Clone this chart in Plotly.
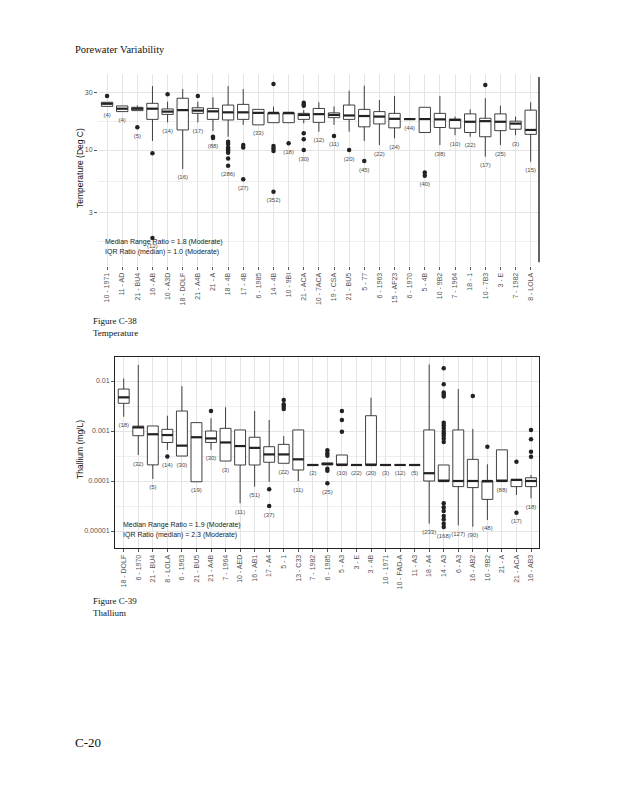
import numpy as np
import plotly.graph_objects as go

# ---------------- Temperature data (Deg C) ----------------
temp_sites = ["10 - 1971", "11 - AD", "21 - BU4", "16 - AB", "10 - A3D", "18 - DOLF",
              "21 - A4B", "21 - A", "18 - 4B", "17 - 4B", "6 - 1985", "14 - 4B",
              "10 - 9BI", "21 - ACA", "10 - 7ACA", "19 - CSA", "21 - BU5", "5 - 77",
              "6 - 1963", "15 - AF23", "6 - 1970", "5 - 4B", "10 - 9B2", "7 - 1964",
              "18 - 1", "10 - 7B3", "3 - E", "7 - 1982", "8 - LOLA"]
temp_n = [4, 4, 5, 12, 14, 16, 17, 88, 286, 27, 33, 352, 18, 30, 12, 11, 20, 45,
          22, 24, 44, 40, 38, 10, 22, 17, 25, 3, 15]
temp_low = [23.1, 20.9, 21.3, 11.9, 17.0, 6.95, 17.0, 14.4, 12.9, 16.2, 16.2, 16.9,
            16.9, 16.7, 14.2, 16.2, 14.2, 11.9, 11.0, 12.5, 18.1, 14.0, 11.0, 13.3,
            12.9, 8.8, 11.0, 13.3, 8.0]
temp_q1 = [23.1, 20.9, 21.3, 18.0, 19.8, 14.7, 20.2, 18.0, 17.8, 18.0, 16.2, 16.9,
           16.9, 18.0, 17.0, 18.6, 18.0, 15.6, 16.5, 15.3, 18.1, 14.0, 15.4, 15.2,
           14.0, 12.9, 14.5, 14.9, 13.5]
temp_med = [24.3, 22.1, 22.1, 22.1, 20.9, 21.5, 21.3, 21.0, 20.6, 20.6, 20.4, 20.4,
            20.4, 19.6, 19.9, 19.6, 19.4, 19.2, 19.0, 18.2, 18.1, 18.1, 18.0, 17.8,
            17.2, 17.4, 17.2, 16.6, 14.7]
temp_q3 = [25.0, 23.3, 22.7, 24.5, 22.0, 27.0, 22.5, 22.2, 23.7, 24.0, 21.8, 20.4,
           20.4, 20.2, 22.2, 20.4, 23.7, 21.8, 20.9, 20.2, 18.1, 22.7, 20.2, 18.1,
           20.0, 18.4, 20.0, 17.4, 21.5]
temp_high = [25.0, 23.3, 23.5, 34.1, 25.3, 32.2, 25.3, 27.5, 34.1, 32.2, 21.8, 23.0,
             20.4, 21.5, 25.0, 23.1, 31.2, 34.3, 26.1, 28.2, 18.1, 22.7, 28.2, 19.0,
             21.8, 27.0, 23.4, 19.0, 25.0]
temp_outliers = [[28.2], [], [15.5], [9.4, 1.85], [29.1], [], [28.2], [12.9, 12.6],
                 [11.7, 11.2, 10.5, 10.1, 9.8, 9.5, 8.5, 7.4], [11.0, 10.5, 5.7], [],
                 [35.5, 10.8, 10.3, 9.8, 4.5], [11.4], [24.8, 24.0, 23.4, 13.8, 12.3, 10.0],
                 [], [13.1], [10.0], [8.1], [], [], [], [6.5, 6.1], [], [], [], [34.8],
                 [], [], []]

# ---------------- Thallium data (mg/L) ----------------
tl_sites = ["18 - DOLF", "6 - 1970", "21 - BU4", "8 - LOLA", "6 - 1963", "21 - BU5",
            "21 - A4B", "7 - 1964", "10 - AED", "16 - AB1", "17 - A4", "5 - 1",
            "13 - C33", "7 - 1982", "6 - 1985", "5 - A3", "3 - E", "3 - 4B",
            "10 - 1971", "10 - FAD-A", "11 - A3", "18 - A4", "14 - A3", "6 - A3",
            "16 - AB2", "10 - 9B2", "21 - A", "21 - ACA", "16 - AB3"]
tl_n = [18, 32, 5, 14, 30, 19, 30, 3, 11, 51, 37, 22, 11, 2, 25, 10, 22, 20, 3, 12, 5,
        233, 168, 127, 90, 48, 88, 17, 18]
tl_low = [0.00193, 0.000331, 0.00011, 0.00042, 0.000316, 0.0000965, 0.00042, 0.000251,
          0.000036, 0.0000772, 0.0000965, 0.000226, 0.0001, 0.000209, 0.00021, 0.000209,
          0.000209, 0.000209, 0.000209, 0.000209, 0.000209, 0.000014, 0.0001, 0.000013,
          0.0000122, 0.0000166, 0.0001, 0.0000525, 0.0000451]
tl_q1 = [0.00358, 0.000805, 0.00021, 0.00059, 0.000316, 0.0000965, 0.00059, 0.000251,
         0.000209, 0.000209, 0.000237, 0.000226, 0.000166, 0.000209, 0.00021, 0.000209,
         0.000209, 0.000209, 0.000209, 0.000209, 0.000209, 0.0001, 0.0001, 0.0000772,
         0.0000738, 0.0000429, 0.0001, 0.0000772, 0.0000772]
tl_med = [0.00471, 0.00118, 0.00086, 0.00083, 0.00051, 0.00075, 0.00071, 0.00059,
          0.0005, 0.00046, 0.00034, 0.00034, 0.000271, 0.000209, 0.000219, 0.000209,
          0.000209, 0.000209, 0.000209, 0.000209, 0.000209, 0.000143, 0.0001, 0.0001,
          0.0001, 0.0001, 0.0001, 0.000105, 0.0001]
tl_q3 = [0.0069, 0.00125, 0.00126, 0.00108, 0.00251, 0.00147, 0.001, 0.00113,
         0.00105, 0.00075, 0.000485, 0.00054, 0.00105, 0.000209, 0.00023, 0.000331,
         0.000209, 0.00202, 0.000209, 0.000209, 0.000209, 0.00105, 0.000209, 0.00105,
         0.000271, 0.0001, 0.00042, 0.000108, 0.000116]
tl_high = [0.0113, 0.021, 0.00126, 0.00202, 0.0079, 0.00147, 0.0018, 0.00298,
           0.00105, 0.00251, 0.00166, 0.00079, 0.00105, 0.000209, 0.00023, 0.000331,
           0.000209, 0.00464, 0.000209, 0.000209, 0.000209, 0.0214, 0.000209, 0.0069,
           0.0011, 0.000216, 0.00042, 0.000108, 0.000132]
tl_outliers = [[], [], [], [0.00031], [], [], [0.00251], [], [], [],
               [0.000068, 0.0000316], [0.00417, 0.00342, 0.00306, 0.00276], [], [],
               [0.00041, 0.00036, 0.00032, 0.000175, 0.00016, 0.00009],
               [0.00251, 0.00166, 0.00097], [], [], [], [], [], [],
               [0.0179, 0.0086, 0.0059, 0.0054, 0.0049, 0.00147, 0.0013, 0.00115, 0.001,
                0.0009, 0.0008, 0.0007, 0.0006, 0.000036, 0.00003, 0.000025, 0.00002,
                0.000017, 0.000014, 0.000012],
               [], [0.00501], [0.000485], [], [0.000243, 0.0000233],
               [0.00105, 0.00068, 0.000385, 0.000306]]

temp_stats_text = ["Median Range Ratio = 1.8 (Moderate)", "IQR Ratio (median) = 1.0 (Moderate)"]
tl_stats_text = ["Median Range Ratio = 1.9 (Moderate)", "IQR Ratio (median) = 2.3 (Moderate)"]

# page body has an 8px margin in the browser; figure sized to fit the window
OFF = 8
W, H = 610, 792
BOX_LINE = "#2b2b2b"
GRID = "#e4e4e4"
GRID_MINOR = "#efefef"
TICKC = "#555555"
SANS = "Liberation Sans, Arial, sans-serif"
SERIF = "Liberation Serif, Times New Roman, serif"


def px(x):
    return (x - OFF) / W


def py(y):
    return 1 - (y - OFF) / H


fig = go.Figure()


def add_panel(sites, n, low, q1, med, q3, high, outliers, xa, ya, label_factor):
    fig.add_trace(go.Box(
        x=sites, q1=q1, median=med, q3=q3, lowerfence=low, upperfence=high,
        xaxis=xa, yaxis=ya, fillcolor="white", line=dict(color=BOX_LINE, width=0.9),
        whiskerwidth=0, width=0.75, boxpoints=False, hoverinfo="skip", showlegend=False))
    # thicker median line (line-ew glyph spans 1.4 * size px)
    fig.add_trace(go.Scatter(
        x=sites, y=med, mode="markers", xaxis=xa, yaxis=ya, showlegend=False,
        hoverinfo="skip",
        marker=dict(symbol="line-ew", size=7.8, line=dict(width=2.2, color="#222222"))))
    ox, oy = [], []
    for s, vals in zip(sites, outliers):
        for v in vals:
            ox.append(s)
            oy.append(v)
    fig.add_trace(go.Scatter(
        x=ox, y=oy, mode="markers", xaxis=xa, yaxis=ya, showlegend=False,
        hoverinfo="skip", marker=dict(size=4.5, color="#222222", symbol="circle")))
    ly = [min([lo] + o) * label_factor for lo, o in zip(low, outliers)]
    fig.add_trace(go.Scatter(
        x=sites, y=ly, mode="text", text=[f"({c})" for c in n], xaxis=xa, yaxis=ya,
        showlegend=False, hoverinfo="skip",
        textfont=dict(family=SANS, size=6, color="#4a4a4a")))


add_panel(temp_sites, temp_n, temp_low, temp_q1, temp_med, temp_q3, temp_high,
          temp_outliers, "x", "y", 10 ** (-9 / 120))
add_panel(tl_sites, tl_n, tl_low, tl_q1, tl_med, tl_q3, tl_high,
          tl_outliers, "x2", "y2", 10 ** (-9 / 50))

axis_common = dict(tickfont=dict(family=SANS, size=7, color=TICKC), ticks="outside",
                   ticklen=3, tickcolor=TICKC, tickwidth=0.8, showgrid=True,
                   gridcolor=GRID, gridwidth=0.8, zeroline=False)

fig.update_layout(
    width=W, height=H, margin=dict(l=0, r=0, t=0, b=0),
    paper_bgcolor="white", plot_bgcolor="white", showlegend=False,
    xaxis=dict(domain=[px(98), px(539)], anchor="y", type="category",
               categoryorder="array", categoryarray=temp_sites, range=[-0.6, 28.55],
               tickangle=-90, showline=False, **axis_common),
    yaxis=dict(domain=[py(266), py(74)], anchor="x", type="log",
               range=[np.log10(1.08), np.log10(43)], tickvals=[3, 10, 30],
               ticktext=["3", "10", "30"], showline=False,
               minor=dict(tickvals=[1.73, 5.48, 17.3], showgrid=True,
                          gridcolor=GRID_MINOR, ticks=""),
               **axis_common),
    xaxis2=dict(domain=[px(115), px(539)], anchor="y2", type="category",
                categoryorder="array", categoryarray=tl_sites, range=[-0.6, 28.55],
                tickangle=-90, showline=True, mirror=True, linecolor="#222222",
                linewidth=1, **axis_common),
    yaxis2=dict(domain=[py(548), py(357)], anchor="x2", type="log",
                range=[-5.34, -1.52], tickvals=[1e-5, 1e-4, 1e-3, 1e-2],
                ticktext=["0.00001", "0.0001", "0.001", "0.01"],
                showline=True, mirror=True, linecolor="#222222", linewidth=1,
                minor=dict(tickvals=[3.16e-6, 3.16e-5, 3.16e-4, 3.16e-3, 3.16e-2],
                           showgrid=True, gridcolor=GRID_MINOR, ticks=""),
                **axis_common),
)

# right border of the temperature panel
fig.add_shape(type="line", xref="x domain", yref="y domain", x0=1, x1=1, y0=0.02, y1=0.985,
              line=dict(color="#111111", width=1.3))

ann = []


def txt(x, y, s, size, family=SERIF, color="#111111", xanchor="left", angle=0):
    ann.append(dict(x=px(x), y=py(y), xref="paper", yref="paper", text=s,
                    showarrow=False, xanchor=xanchor, yanchor="middle", textangle=angle,
                    font=dict(family=family, size=size, color=color)))


txt(73, 49, "Porewater Variability", 10.5)
txt(91, 321, "Figure C-38", 9)
txt(91, 333, "Temperature", 9)
txt(91, 601, "Figure C-39", 9)
txt(91, 613, "Thallium", 9)
txt(73, 742, "C-20", 13)
txt(80, 168, "Temperature (Deg C)", 8.5, family=SANS, xanchor="center", angle=-90)
txt(80, 450, "Thallium (mg/L)", 8.5, family=SANS, xanchor="center", angle=-90)
txt(103, 242, temp_stats_text[0], 7, family=SANS, color="#222222")
txt(103, 252, temp_stats_text[1], 7, family=SANS, color="#222222")
txt(121, 525, tl_stats_text[0], 7, family=SANS, color="#222222")
txt(121, 535, tl_stats_text[1], 7, family=SANS, color="#222222")
fig.update_layout(annotations=ann)

fig.write_html("out.html")
